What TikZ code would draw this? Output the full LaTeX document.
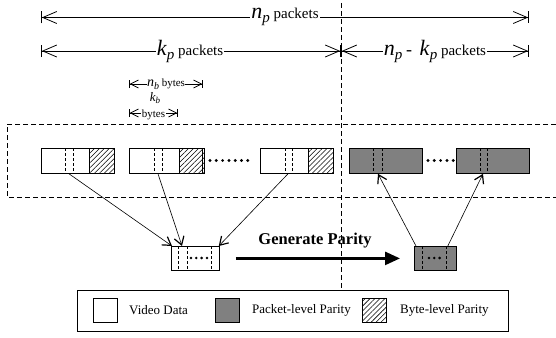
\documentclass[tikz,border=0pt]{standalone}
\usepackage{fontspec}
\setmainfont{Liberation Serif}
\usetikzlibrary{arrows.meta,patterns.meta}
\definecolor{pgray}{RGB}{128,128,128}
% italic symbol with italic subscript: {base}{sub}{base size}{sub size}{drop}
\newcommand{\isub}[5]{{\fontsize{#3}{#3}\selectfont\textit{#1}}\raisebox{-#5}{\fontsize{#4}{#4}\selectfont\textit{#2}}}
\begin{document}
\begin{tikzpicture}[x=1pt,y=-1pt,
  outline/.style={draw,line width=.8pt,inner sep=0pt,anchor=north west},
  pkt/.style={outline,minimum width=73pt,minimum height=25pt},
  hatchbox/.style={outline,minimum width=25pt,minimum height=25pt,
     pattern={Lines[angle=45,distance=3.5pt,line width=.55pt]}},
  smallbox/.style={outline,minimum height=24pt},
  keybox/.style={outline,minimum width=24pt,minimum height=24pt},
  inner/.style={line width=.7pt,dash pattern=on 3pt off 2pt},
  frame/.style={line width=.7pt,dash pattern=on 5pt off 3pt},
  bigdim/.style={line width=.7pt,
     {Bar[width=12pt,line width=.8pt]Straight Barb[length=14pt,width=12pt,line width=.8pt]}-{Straight Barb[length=14pt,width=12pt,line width=.8pt]Bar[width=12pt,line width=.8pt]}},
  smalldim/.style={line width=.6pt,
     {Bar[width=8pt,line width=.7pt]Straight Barb[length=8pt,width=8pt,line width=.7pt]}-{Straight Barb[length=8pt,width=8pt,line width=.7pt]Bar[width=8pt,line width=.7pt]}},
  conn/.style={line width=.6pt,-{Straight Barb[length=8pt,width=10pt,line width=1.2pt]}},
  gen/.style={line width=2.6pt,-{Triangle[length=15pt,width=13pt]}},
  lbl/.style={fill=white,inner sep=1pt},
  keytext/.style={anchor=west,inner sep=0pt,font=\fontsize{13}{13}\selectfont}]
\useasboundingbox (0,0) rectangle (556,337);

% divider between data and parity
\draw[frame] (341,3) -- (341,290);

% packet-count dimensions
\coordinate (tL) at (41,17.5);
\coordinate (tR) at (529,17.5);
\coordinate (mL) at (41,51);
\coordinate (mM) at (341,51);
\coordinate (mR) at (529,51);
\draw[bigdim] (tL) -- (tR);
\draw[bigdim] (mL) -- (mM);
\draw[bigdim] (mM) -- (mR);
\node[lbl] (tnp) at (285,17) {\fontsize{15}{15}\selectfont\isub{n}{p}{22}{15}{4pt} packets};
\node[lbl] (tkp) at (190,51) {\fontsize{15}{15}\selectfont\isub{k}{p}{22}{15}{4pt} packets};
\node[lbl] (tnk) at (435,51) {\fontsize{15}{15}\selectfont\isub{n}{p}{22}{15}{4pt} {\fontsize{18}{18}\selectfont -}\ \ \isub{k}{p}{22}{15}{4pt} packets};

% byte-count dimensions
\coordinate (nbL) at (129,84);
\coordinate (nbR) at (203,84);
\coordinate (kbL) at (129,113);
\coordinate (kbR) at (178,113);
\draw[smalldim] (nbL) -- (nbR);
\draw[smalldim] (kbL) -- (kbR);
\node[lbl,inner sep=.5pt] (tnb) at (166,84) {\fontsize{11}{11}\selectfont\isub{n}{b}{14}{10}{2.5pt} bytes};
\node[inner sep=0pt] (tkbsym) at (155,98) {\isub{k}{b}{13}{9}{2.5pt}};
\node[lbl,inner sep=.5pt] (tkb) at (153.5,115) {\fontsize{11}{11}\selectfont bytes};

% transmitted block
\draw[frame] (556,124) -- (7,124) -- (7,197) -- (556,197);

\node[pkt,fill=white] (p1) at (41,148) {};
\node[hatchbox] (h1) at (89,148) {};
\draw[inner] ([xshift=24pt]p1.north west) -- ([xshift=24pt]p1.south west);
\draw[inner] ([xshift=32pt]p1.north west) -- ([xshift=32pt]p1.south west);

\node[pkt,fill=white] (p2) at (129,148) {};
\node[hatchbox] (h2) at (179,148) {};
\draw[inner] ([xshift=25pt]p2.north west) -- ([xshift=25pt]p2.south west);
\draw[inner] ([xshift=33pt]p2.north west) -- ([xshift=33pt]p2.south west);

\foreach \i in {0,...,6} \fill (210+\i*6.3,160.5) circle (1.6pt);

\node[pkt,fill=white] (p3) at (260,148) {};
\node[hatchbox] (h3) at (308,148) {};
\draw[inner] ([xshift=25pt]p3.north west) -- ([xshift=25pt]p3.south west);
\draw[inner] ([xshift=32pt]p3.north west) -- ([xshift=32pt]p3.south west);

\node[pkt,fill=pgray] (p4) at (349,148) {};
\draw[inner] ([xshift=24pt]p4.north west) -- ([xshift=24pt]p4.south west);
\draw[inner] ([xshift=33pt]p4.north west) -- ([xshift=33pt]p4.south west);

\foreach \i in {0,...,4} \fill (428+\i*6.3,160.5) circle (1.6pt);

\node[pkt,fill=pgray] (p5) at (456,148) {};
\draw[inner] ([xshift=24pt]p5.north west) -- ([xshift=24pt]p5.south west);
\draw[inner] ([xshift=31pt]p5.north west) -- ([xshift=31pt]p5.south west);

% byte column and its parity column
\node[smallbox,fill=white,minimum width=48pt] (sb) at (171,246) {};
\draw[inner] ([xshift=7pt]sb.north west) -- ([xshift=7pt]sb.south west);
\draw[inner] ([xshift=16pt]sb.north west) -- ([xshift=16pt]sb.south west);
\draw[inner] ([xshift=40pt]sb.north west) -- ([xshift=40pt]sb.south west);
\foreach \i in {0,...,3} \fill (191+\i*5.3,258) circle (1.4pt);

\node[smallbox,fill=pgray,minimum width=42pt] (gb) at (414,246) {};
\draw[inner] ([xshift=8pt]gb.north west) -- ([xshift=8pt]gb.south west);
\draw[inner] ([xshift=32pt]gb.north west) -- ([xshift=32pt]gb.south west);
\foreach \i in {0,...,2} \fill (429+\i*5.3,258) circle (1.4pt);

% connectors
\draw[conn] ([xshift=28pt]p1.south west) -- ([xshift=1pt]sb.north west);
\draw[conn] ([xshift=29pt]p2.south west) -- ([xshift=11pt]sb.north west);
\draw[conn] ([xshift=28pt]p3.south west) -- ([xshift=-1pt]sb.north east);
\draw[conn] ([xshift=2pt]gb.north west) -- ([xshift=29pt]p4.south west);
\draw[conn] ([xshift=-9pt]gb.north east) -- ([xshift=27pt]p5.south west);

\draw[gen] ([xshift=16pt]sb.east) -- ([xshift=-14pt]gb.west);
\node[inner sep=0pt] (tgen) at (315,241) {\fontsize{16.5}{16.5}\selectfont\bfseries Generate Parity};

% key
\node[outline,fill=white,minimum width=431pt,minimum height=41pt] (key) at (77,290) {};
\node[keybox,fill=white] (k1) at (93,298) {};
\node[keytext] (k1t) at (129,310) {Video Data};
\node[keybox,fill=pgray] (k2) at (215,298) {};
\node[keytext] (k2t) at (252,310) {Packet-level Parity};
\node[keybox,pattern={Lines[angle=45,distance=3.5pt,line width=.55pt]}] (k3) at (362,298) {};
\node[keytext] (k3t) at (400,310) {Byte-level Parity};
\end{tikzpicture}
\end{document}
